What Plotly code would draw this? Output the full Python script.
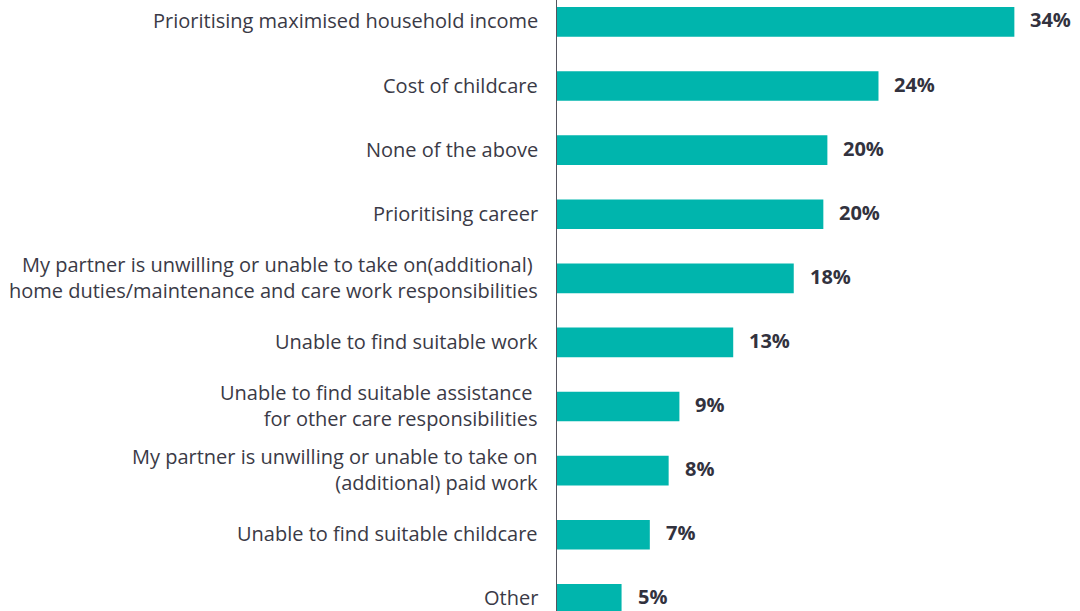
import plotly.graph_objects as go

# Survey responses, top to bottom; "<br>" splits a label over two lines
categories = [
    "Prioritising maximised household income",
    "Cost of childcare",
    "None of the above",
    "Prioritising career",
    "My partner is unwilling or unable to take on(additional)\u00a0<br>home duties/maintenance and care work responsibilities",
    "Unable to find suitable work",
    "Unable to find suitable assistance\u00a0<br>for other care responsibilities",
    "My partner is unwilling or unable to take on<br>(additional) paid work",
    "Unable to find suitable childcare",
    "Other",
]
shares = [34.0, 23.9, 20.1, 19.8, 17.6, 13.1, 9.1, 8.3, 6.9, 4.8]

TEAL = "#00B5AD"
TEXT = "#3a3a46"
LABEL = "#32323e"
FONT = "Open Sans"
SIZE = 20

fig = go.Figure(
    go.Bar(
        x=shares,
        y=categories,
        orientation="h",
        marker=dict(color=TEAL, line=dict(width=0)),
        hoverinfo="skip",
    )
)

for cat, val in zip(categories, shares):
    # value label to the right of the bar
    fig.add_annotation(
        x=val,
        y=cat,
        text=f"<b>{val:.0f}%</b>",
        showarrow=False,
        xanchor="left",
        yanchor="middle",
        xshift=14,
        yshift=2,
        font=dict(family=FONT, size=SIZE, color=LABEL),
    )
    # category label, right-aligned against the axis
    fig.add_annotation(
        xref="paper",
        x=0,
        y=cat,
        text=cat,
        align="right",
        showarrow=False,
        xanchor="right",
        yanchor="middle",
        xshift=-17,
        yshift=1,
        font=dict(family=FONT, size=SIZE, color=TEXT),
    )

fig.update_layout(
    width=1080,
    height=611,
    margin=dict(l=557, r=0, t=0, b=0),
    paper_bgcolor="white",
    plot_bgcolor="white",
    bargap=0.538,
    showlegend=False,
    font=dict(family=FONT, size=SIZE, color=TEXT),
)

fig.update_xaxes(
    range=[0, 38.88],
    visible=False,
    showgrid=False,
    zeroline=False,
)

fig.update_yaxes(
    type="category",
    categoryorder="array",
    categoryarray=categories,
    range=[9.19, -0.342],
    showgrid=False,
    zeroline=False,
    showline=True,
    linecolor="#55555e",
    linewidth=1,
    ticks="",
    showticklabels=False,
)

fig.write_html("out.html")
